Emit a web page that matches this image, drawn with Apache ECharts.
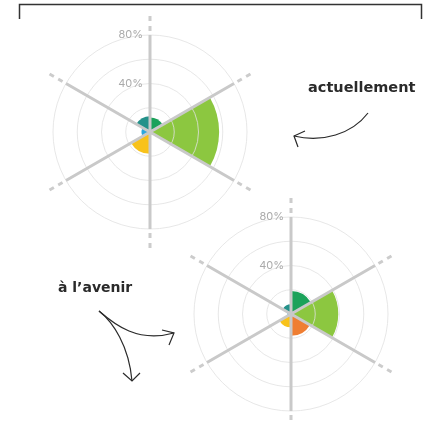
<!DOCTYPE html>
<html>
<head>
<meta charset="utf-8">
<script src="https://cdn.jsdelivr.net/npm/echarts@6/dist/echarts.min.js"></script>
<style>
html, body { margin: 0; padding: 0; background: #fff; }
#chart { width: 429px; height: 425px; }
</style>
</head>
<body>
<div id="chart"></div>
<script>
// secteurs dans le sens horaire, en partant de midi
const categories = ['vert', 'vert clair', 'orange', 'jaune', 'bleu', 'bleu-vert']
const actuellement = [12, 57, 0, 18, 7, 13]
const avenir = [19, 39, 18, 11, 3, 8]
const radiusLabels = [40, 80]
const palette = ['#1ba25a', '#8cc740', '#ef7e32', '#f8c21a', '#2ca7df', '#24918a']

const spokeColor = '#c9c9c9'
const ringColor = 'rgba(225,225,225,0.8)'

function polarPair(center) {
  return [
    { center: center, radius: 97 },
    { center: center, radius: [101, 116] }
  ]
}

// axes pour le polar de données
function dataAngleAxis(idx) {
  return {
    polarIndex: idx,
    type: 'category',
    data: categories,
    startAngle: 90,
    z: 5,
    axisLine: { show: false },
    axisTick: { show: false },
    axisLabel: { show: false },
    splitLine: { show: true, lineStyle: { color: spokeColor, width: 3 } }
  }
}
function dataRadiusAxis(idx) {
  return {
    polarIndex: idx,
    min: 0,
    max: 80,
    interval: 20,
    z: 4,
    axisLine: { show: false },
    axisTick: { show: false },
    axisLabel: {
      color: '#aaa',
      fontSize: 11,
      fontFamily: 'Inter',
      margin: 7,
      formatter: v => (radiusLabels.indexOf(v) >= 0 ? v + '%' : '')
    },
    splitLine: { show: true, lineStyle: { color: ringColor, width: 1 } }
  }
}
// prolongement en pointillés des rayons
function dashAngleAxis(idx) {
  return {
    polarIndex: idx,
    type: 'category',
    data: categories,
    startAngle: 90,
    axisLine: { show: false },
    axisTick: { show: false },
    axisLabel: { show: false },
    splitLine: { show: true, lineStyle: { color: '#cccccc', width: 3, type: [5, 5] } }
  }
}
function dashRadiusAxis(idx) {
  return { polarIndex: idx, show: false, min: 0, max: 1, splitLine: { show: false } }
}

function buildData(values) {
  return values.map((v, i) => ({ value: v, itemStyle: { color: palette[i] } }))
}

const chartEl = document.getElementById('chart')
const myChart = echarts.init(chartEl)

const ink = '#2a2a2a'
const option = {
  animation: false,
  polar: [...polarPair([150, 132]), ...polarPair([291, 314])],
  angleAxis: [dataAngleAxis(0), dashAngleAxis(1), dataAngleAxis(2), dashAngleAxis(3)],
  radiusAxis: [dataRadiusAxis(0), dashRadiusAxis(1), dataRadiusAxis(2), dashRadiusAxis(3)],
  series: [
    {
      name: 'actuellement',
      type: 'bar',
      coordinateSystem: 'polar',
      polarIndex: 0,
      barCategoryGap: '0%',
      data: buildData(actuellement)
    },
    {
      name: 'à l’avenir',
      type: 'bar',
      coordinateSystem: 'polar',
      polarIndex: 2,
      barCategoryGap: '0%',
      data: buildData(avenir)
    }
  ],
  graphic: [
    // accolade du haut
    {
      type: 'polyline',
      shape: { points: [[19.5, 19], [19.5, 4.5], [421.5, 4.5], [421.5, 19]] },
      style: { stroke: '#333', lineWidth: 1.5, fill: null }
    },
    {
      type: 'text',
      left: 308,
      top: 81,
      style: { text: 'actuellement', fill: ink, font: 'bold 14.5px "DejaVu Sans"' }
    },
    {
      type: 'bezierCurve',
      shape: { x1: 368, y1: 113, cpx1: 352, cpy1: 134, cpx2: 322, cpy2: 143, x2: 294, y2: 136 },
      style: { stroke: ink, lineWidth: 1.2, fill: null }
    },
    {
      type: 'polyline',
      shape: { points: [[305, 131], [294, 136], [298, 147]] },
      style: { stroke: ink, lineWidth: 1.2, fill: null }
    },
    {
      type: 'text',
      left: 58,
      top: 281,
      style: { text: 'à l’avenir', fill: ink, font: 'bold 14px "DejaVu Sans"' }
    },
    {
      type: 'bezierCurve',
      shape: { x1: 99, y1: 311, cpx1: 115, cpy1: 325, cpx2: 138, cpy2: 343, x2: 174, y2: 333 },
      style: { stroke: ink, lineWidth: 1.2, fill: null }
    },
    {
      type: 'polyline',
      shape: { points: [[162, 330], [174, 333], [169, 345]] },
      style: { stroke: ink, lineWidth: 1.2, fill: null }
    },
    {
      type: 'bezierCurve',
      shape: { x1: 99, y1: 311, cpx1: 113, cpy1: 322, cpx2: 129, cpy2: 346, x2: 132, y2: 381 },
      style: { stroke: ink, lineWidth: 1.2, fill: null }
    },
    {
      type: 'polyline',
      shape: { points: [[123, 373], [132, 381], [140, 373]] },
      style: { stroke: ink, lineWidth: 1.2, fill: null }
    }
  ]
}
myChart.setOption(option)
</script>
</body>
</html>
